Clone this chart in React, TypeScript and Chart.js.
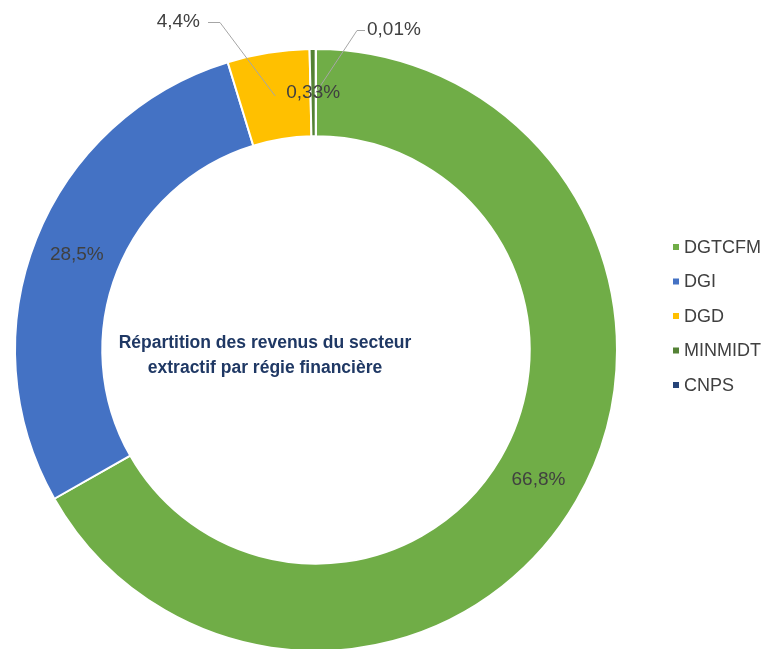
import React, { useEffect, useRef } from "react";
import { Chart, registerables } from "chart.js";

Chart.register(...registerables);

const categories = ["DGTCFM", "DGI", "DGD", "MINMIDT", "CNPS"];
const shares = [66.8, 28.5, 4.4, 0.33, 0.01];
const valueLabels = ["66,8%", "28,5%", "4,4%", "0,33%", "0,01%"];
const colors = ["#70AD47", "#4472C4", "#FFC000", "#548235", "#264478"];
const titleLines = ["Répartition des revenus du secteur", "extractif par régie financière"];

const FONT = "'Liberation Sans', Arial, sans-serif";

const overlay = {
  id: "overlay",
  afterDatasetsDraw(chart: any) {
    const ctx = chart.ctx;
    const meta = chart.getDatasetMeta(0);
    ctx.save();
    ctx.font = `19px ${FONT}`;
    ctx.fillStyle = "#404040";
    ctx.textBaseline = "middle";
    // leader label placements for tiny slices: text anchor, elbow segment
    const leaders: Record<number, { tx: number; ty: number; align: CanvasTextAlign; hx: number; ex: number }> = {
      2: { tx: 200, ty: 22, align: "right", hx: 208, ex: 220 },
      4: { tx: 367, ty: 30, align: "left", hx: 365, ex: 357 },
    };
    meta.data.forEach((arc: any, i: number) => {
      const p = arc.tooltipPosition();
      const ld = leaders[i];
      if (ld) {
        ctx.strokeStyle = "#A6A6A6";
        ctx.lineWidth = 1;
        ctx.beginPath();
        ctx.moveTo(ld.hx, ld.ty + 0.5);
        ctx.lineTo(ld.ex, ld.ty + 0.5);
        ctx.lineTo(p.x, p.y);
        ctx.stroke();
        ctx.textAlign = ld.align;
        ctx.fillText(valueLabels[i], ld.tx, ld.ty);
      }
    });
    ctx.textAlign = "center";
    meta.data.forEach((arc: any, i: number) => {
      if (leaders[i]) return;
      const p = arc.tooltipPosition();
      ctx.fillText(valueLabels[i], p.x, p.y);
    });

    // legend
    ctx.font = `18px ${FONT}`;
    ctx.textAlign = "left";
    categories.forEach((c, i) => {
      const y = 247 + i * 34.5;
      ctx.fillStyle = colors[i];
      ctx.fillRect(673, y - 3, 6, 6);
      ctx.fillStyle = "#404040";
      ctx.fillText(c, 684, y + 1);
    });

    // center title
    ctx.font = `bold 17.5px ${FONT}`;
    ctx.fillStyle = "#1F3864";
    ctx.textAlign = "center";
    titleLines.forEach((t, i) => ctx.fillText(t, 265, 343 + i * 25));
    ctx.restore();
  },
};

export default function App() {
  const ref = useRef<HTMLCanvasElement>(null);
  useEffect(() => {
    const chart = new Chart(ref.current!, {
      type: "doughnut",
      data: {
        labels: categories,
        datasets: [
          {
            data: shares,
            backgroundColor: colors,
            borderColor: "#ffffff",
            borderWidth: 2,
          },
        ],
      },
      options: {
        responsive: false,
        animation: false,
        devicePixelRatio: 1,
        cutout: "71%",
        rotation: 0,
        layout: { padding: { left: 14, right: 156, top: 48, bottom: 8 } },
        plugins: { legend: { display: false }, tooltip: { enabled: false } },
      },
      plugins: [overlay],
    });
    return () => chart.destroy();
  }, []);
  return (
    <div style={{ position: "fixed", left: 0, top: 0, width: 774, height: 649, overflow: "hidden", background: "#fff" }}>
      <canvas ref={ref} width={774} height={660} style={{ width: 774, height: 660 }} />
    </div>
  );
}
